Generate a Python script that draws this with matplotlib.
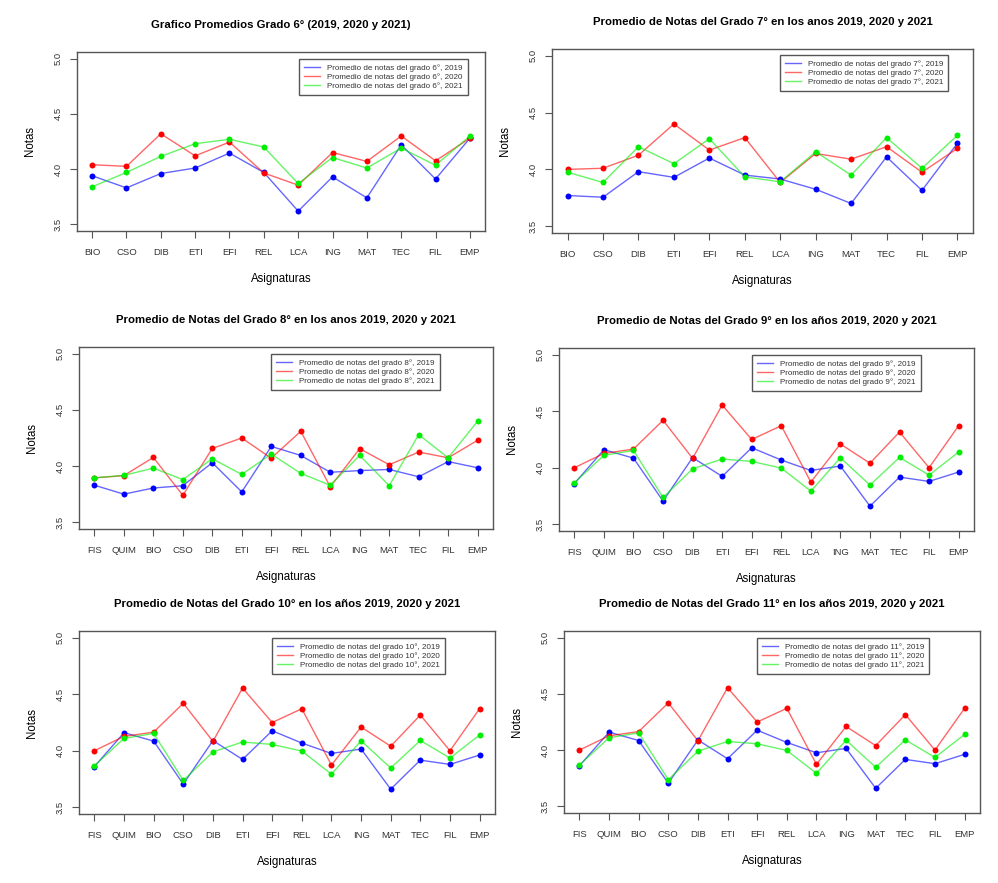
import matplotlib.pyplot as plt
from matplotlib.lines import Line2D

plt.rcParams['font.family'] = ['Liberation Sans', 'DejaVu Sans']

# asignaturas
materias_67 = ["BIO", "CSO", "DIB", "ETI", "EFI", "REL", "LCA", "ING", "MAT", "TEC", "FIL", "EMP"]
materias_8_11 = ["FIS", "QUIM", "BIO", "CSO", "DIB", "ETI", "EFI", "REL", "LCA", "ING", "MAT", "TEC", "FIL", "EMP"]

# grado 6
g6_2019 = [3.94, 3.83, 3.96, 4.01, 4.145, 3.97, 3.62, 3.93, 3.74, 4.22, 3.91, 4.28]
g6_2020 = [4.04, 4.025, 4.32, 4.12, 4.245, 3.965, 3.855, 4.15, 4.07, 4.30, 4.075, 4.28]
g6_2021 = [3.84, 3.97, 4.115, 4.23, 4.27, 4.20, 3.87, 4.105, 4.01, 4.19, 4.035, 4.30]

# grado 7
g7_2019 = [3.77, 3.755, 3.98, 3.93, 4.10, 3.95, 3.915, 3.825, 3.70, 4.11, 3.815, 4.23]
g7_2020 = [4.00, 4.01, 4.125, 4.40, 4.17, 4.28, 3.885, 4.14, 4.09, 4.20, 3.975, 4.185]
g7_2021 = [3.975, 3.885, 4.20, 4.05, 4.27, 3.935, 3.89, 4.155, 3.95, 4.28, 4.01, 4.30]

# grado 8
g8_2019 = [3.83, 3.75, 3.805, 3.825, 4.03, 3.77, 4.175, 4.095, 3.945, 3.96, 3.97, 3.905, 4.04, 3.985]
g8_2020 = [3.895, 3.915, 4.077, 3.74, 4.157, 4.25, 4.07, 4.31, 3.816, 4.155, 4.012, 4.125, 4.074, 4.23]
g8_2021 = [3.896, 3.917, 3.982, 3.88, 4.065, 3.926, 4.107, 3.935, 3.83, 4.095, 3.825, 4.28, 4.074, 4.40]

# grado 9
g9_2019 = [3.86, 4.16, 4.085, 3.705, 4.09, 3.923, 4.177, 4.068, 3.976, 4.015, 3.66, 3.917, 3.879, 3.962]
g9_2020 = [4.00, 4.127, 4.165, 4.42, 4.083, 4.555, 4.25, 4.372, 3.873, 4.21, 4.04, 4.316, 4.00, 4.372]
g9_2021 = [3.867, 4.11, 4.153, 3.737, 3.99, 4.077, 4.056, 3.997, 3.793, 4.088, 3.847, 4.091, 3.935, 4.139]

# grado 10
g10_2019 = [3.86, 4.16, 4.085, 3.705, 4.09, 3.923, 4.177, 4.068, 3.976, 4.015, 3.66, 3.917, 3.879, 3.962]
g10_2020 = [4.00, 4.127, 4.165, 4.42, 4.083, 4.555, 4.25, 4.372, 3.873, 4.21, 4.04, 4.316, 4.00, 4.372]
g10_2021 = [3.867, 4.11, 4.153, 3.737, 3.99, 4.077, 4.056, 3.997, 3.793, 4.088, 3.847, 4.091, 3.935, 4.139]

# grado 11
g11_2019 = [3.86, 4.16, 4.085, 3.705, 4.09, 3.923, 4.177, 4.068, 3.976, 4.015, 3.66, 3.917, 3.879, 3.962]
g11_2020 = [4.00, 4.127, 4.165, 4.42, 4.083, 4.555, 4.25, 4.372, 3.873, 4.21, 4.04, 4.316, 4.00, 4.372]
g11_2021 = [3.867, 4.11, 4.153, 3.737, 3.99, 4.077, 4.056, 3.997, 3.793, 4.088, 3.847, 4.091, 3.935, 4.139]

anios = ["2019", "2020", "2021"]
colores = ["blue", "red", "#00ee00"]

W, H = 998, 883
fig = plt.figure(figsize=(W / 100, H / 100), dpi=100)
marco = "#555555"


def panel(caja, leyenda, titulo, grado, materias, series):
    x0, x1, y0, y1 = caja
    ax = fig.add_axes([x0 / W, 1 - y1 / H, (x1 - x0) / W, (y1 - y0) / H])
    n = len(materias)
    xs = list(range(1, n + 1))
    for serie, col in zip(series, colores):
        ax.plot(xs, serie, color=col, lw=1.0, alpha=0.6, zorder=2)
        ax.plot(xs, serie, 'o', color=col, ms=4.3, mew=0, zorder=3)
    pad = (n - 1) * 0.04
    ax.set_xlim(1 - pad, n + pad)
    ax.set_ylim(3.5 - 0.06, 5.0 + 0.06)
    ax.set_xticks(xs)
    ax.set_xticklabels(materias)
    ax.set_yticks([3.5, 4.0, 4.5, 5.0])
    ax.set_yticklabels(["3.5", "4.0", "4.5", "5.0"], rotation=90, va='center')
    ax.tick_params(length=5, width=0.8, color=marco, labelsize=6.8,
                   labelcolor="#333333")
    ax.tick_params(axis='x', pad=7.5)
    ax.tick_params(axis='y', pad=5.5)
    for s in ax.spines.values():
        s.set_color(marco)
        s.set_linewidth(1.0)

    fig.text((x0 + x1) / 2 / W, 1 - (y0 - 27) / H, titulo, ha='center',
             va='center', fontsize=8.2, fontweight='bold')
    fig.text((x0 + x1) / 2 / W, 1 - (y1 + 48) / H, "Asignaturas", ha='center',
             va='center', fontsize=8.3)
    fig.text((x0 - 47) / W, 1 - (y0 + y1) / 2 / H, "Notas", ha='center',
             va='center', rotation=90, fontsize=8.3)

    manejadores = [Line2D([], [], color=c, lw=1.0, alpha=0.6) for c in colores]
    etiquetas = [f"Promedio de notas del grado {grado}°, {a}" for a in anios]
    lx, ly = leyenda
    leg = ax.legend(manejadores, etiquetas, loc='upper left',
                    bbox_to_anchor=(lx / W, 1 - ly / H),
                    bbox_transform=fig.transFigure, fontsize=5.8,
                    labelspacing=0.2, handlelength=2.0, handletextpad=0.9,
                    borderpad=0.6, borderaxespad=0, fancybox=False,
                    framealpha=1)
    leg.get_frame().set_edgecolor(marco)
    leg.get_frame().set_linewidth(1.0)
    for t in leg.get_texts():
        t.set_color("#333333")


panel((77, 485, 52, 231), (299, 59), "Grafico Promedios Grado 6° (2019, 2020 y 2021)",
      6, materias_67, [g6_2019, g6_2020, g6_2021])
panel((552, 973, 49, 233), (780, 55), "Promedio de Notas del Grado 7° en los anos 2019, 2020 y 2021",
      7, materias_67, [g7_2019, g7_2020, g7_2021])
panel((79, 493, 347, 529), (271, 354), "Promedio de Notas del Grado 8° en los anos 2019, 2020 y 2021",
      8, materias_8_11, [g8_2019, g8_2020, g8_2021])
panel((559, 974, 348, 531), (752, 355), "Promedio de Notas del Grado 9° en los años 2019, 2020 y 2021",
      9, materias_8_11, [g9_2019, g9_2020, g9_2021])
panel((79, 495, 631, 814), (272, 638), "Promedio de Notas del Grado 10° en los años 2019, 2020 y 2021",
      10, materias_8_11, [g10_2019, g10_2020, g10_2021])
panel((564, 980, 631, 813), (757, 638), "Promedio de Notas del Grado 11° en los años 2019, 2020 y 2021",
      11, materias_8_11, [g11_2019, g11_2020, g11_2021])

fig.savefig("out.png", dpi=100)
